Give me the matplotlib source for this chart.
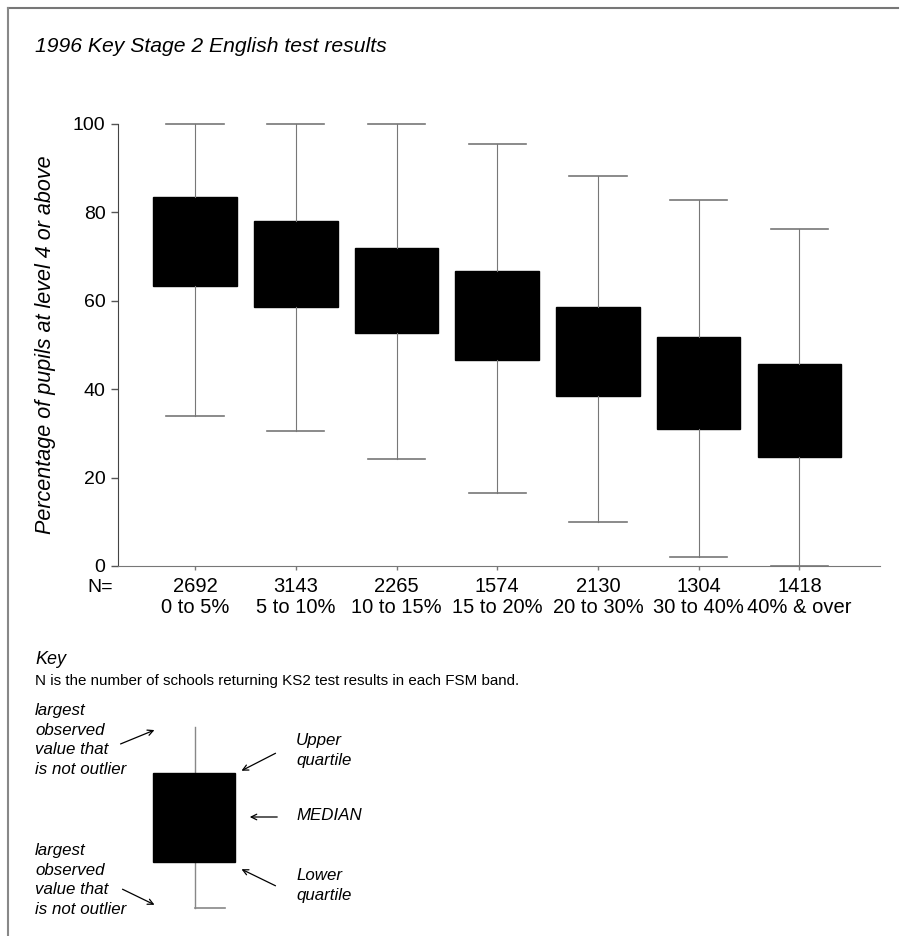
import matplotlib.pyplot as plt
from matplotlib.patches import Rectangle

plt.rcParams['font.family'] = ['Liberation Sans', 'DejaVu Sans']

# data
bands = ['0 to 5%', '5 to 10%', '10 to 15%', '15 to 20%', '20 to 30%', '30 to 40%', '40% & over']
n_schools = [2692, 3143, 2265, 1574, 2130, 1304, 1418]
upper_q = [83.4, 78.0, 71.9, 66.7, 58.7, 51.9, 45.6]
median = [73.0, 68.0, 62.0, 56.5, 48.5, 41.5, 35.0]
lower_q = [63.3, 58.5, 52.8, 46.5, 38.5, 31.0, 24.7]
whisker_hi = [100, 100, 100, 95.5, 88.2, 82.8, 76.2]
whisker_lo = [34.0, 30.6, 24.3, 16.6, 10.0, 2.0, 0.0]

W, H = 902, 936
fig = plt.figure(figsize=(W / 100, H / 100), dpi=100)

# main box plot axes
ax = fig.add_axes([118 / W, 1 - 566 / H, 762 / W, 442 / H])
stats = []
for i in range(len(bands)):
    stats.append(dict(med=median[i], q1=lower_q[i], q3=upper_q[i],
                      whislo=whisker_lo[i], whishi=whisker_hi[i], fliers=[]))
pos = list(range(1, len(bands) + 1))
ax.bxp(stats, positions=pos, widths=0.83, capwidths=0.57, patch_artist=True,
       boxprops=dict(facecolor='black', edgecolor='black', linewidth=1),
       medianprops=dict(color='black', linewidth=0),
       whiskerprops=dict(color='#777777', linewidth=0.8),
       capprops=dict(color='#777777', linewidth=1.2),
       manage_ticks=False)
for ln in ax.lines:
    ln.set_clip_on(False)

ax.set_xlim(0.235, 7.80)
ax.set_ylim(0, 100)
ax.set_yticks([0, 20, 40, 60, 80, 100])
ax.tick_params(axis='y', labelsize=14, length=5, width=1, color='#555555', pad=4)
ax.set_xticks(pos)
ax.set_xticklabels(['%d\n%s' % (n, b) for n, b in zip(n_schools, bands)],
                   fontsize=14.5, linespacing=1.15)
ax.tick_params(axis='x', length=3, width=1, color='#777777', pad=5)
for s in ['top', 'right']:
    ax.spines[s].set_visible(False)
ax.spines['left'].set_color('#444444')
ax.spines['bottom'].set_color('#777777')
ax.set_ylabel('Percentage of pupils at level 4 or above', fontsize=15.5,
              style='italic', labelpad=12)

# overlay for text, key and scan frame in pixel units
ov = fig.add_axes([0, 0, 1, 1], facecolor='none')
ov.set_xlim(0, W)
ov.set_ylim(H, 0)
ov.axis('off')

ov.plot([8, 898], [8, 8], color='#777777', lw=1.5)
ov.plot([8, 8], [8, 936], color='#888888', lw=1.5)

ov.text(35, 47, '1996 Key Stage 2 English test results', fontsize=15.2,
        style='italic', va='center', ha='left')
ov.text(100, 587, 'N=', fontsize=14, va='center', ha='center')

ov.text(35, 659, 'Key', fontsize=13, style='italic', va='center')
ov.text(35, 681, 'N is the number of schools returning KS2 test results in each FSM band.',
        fontsize=10.9, va='center')

# key diagram
ov.plot([195, 195], [727, 908], color='#888888', lw=1, zorder=1)
ov.plot([195, 225], [908, 908], color='#888888', lw=1.2, zorder=1)
ov.add_patch(Rectangle((153, 773), 82, 89, facecolor='black', edgecolor='black', zorder=2))

small = dict(fontsize=12.2, style='italic', va='top', ha='left', linespacing=1.38)
ov.text(35, 703, 'largest\nobserved\nvalue that\nis not outlier', **small)
ov.text(35, 843, 'largest\nobserved\nvalue that\nis not outlier', **small)
ov.text(296, 733, 'Upper\nquartile', **small)
ov.text(296, 808, 'MEDIAN', **small)
ov.text(296, 868, 'Lower\nquartile', **small)

arr = dict(arrowstyle='->', color='black', lw=0.9)
ov.annotate('', xy=(157, 729), xytext=(118, 745), arrowprops=arr)
ov.annotate('', xy=(239, 772), xytext=(278, 752), arrowprops=arr)
ov.annotate('', xy=(247, 817), xytext=(280, 817), arrowprops=arr)
ov.annotate('', xy=(239, 868), xytext=(278, 887), arrowprops=arr)
ov.annotate('', xy=(157, 906), xytext=(120, 888), arrowprops=arr)

fig.savefig('out.png', dpi=100)
